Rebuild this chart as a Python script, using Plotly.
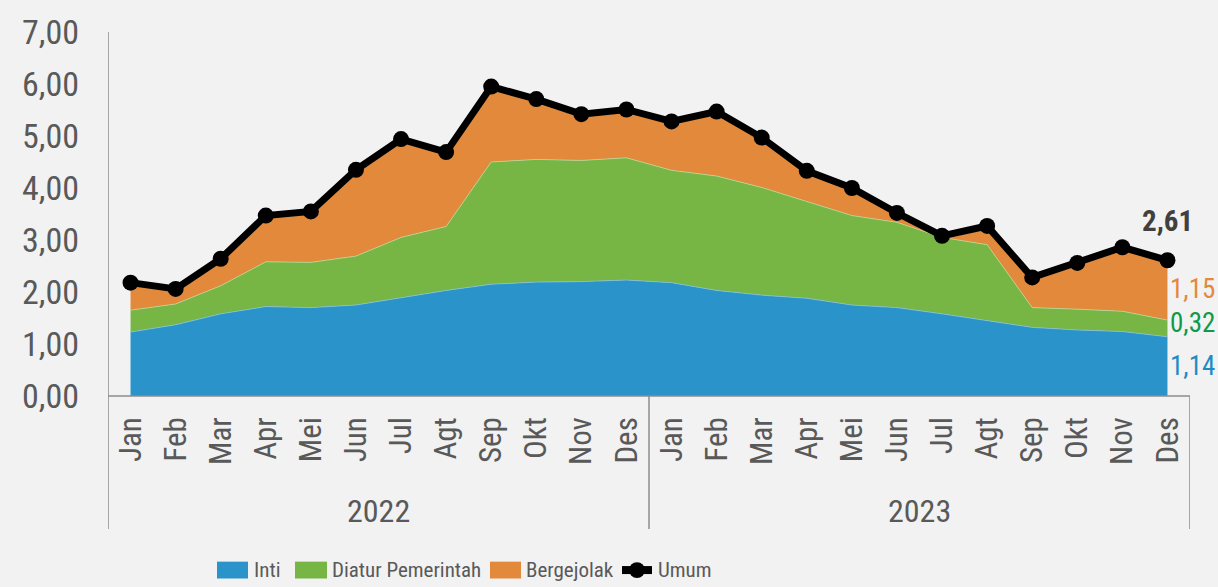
import plotly.graph_objects as go

months = ["Jan", "Feb", "Mar", "Apr", "Mei", "Jun", "Jul", "Agt", "Sep", "Okt", "Nov", "Des"]
years = ["2022", "2023"]
month_labels = months + months

inti = [1.23, 1.37, 1.58, 1.72, 1.70, 1.75, 1.89, 2.03, 2.15, 2.19, 2.20, 2.23,
        2.18, 2.03, 1.94, 1.88, 1.75, 1.70, 1.58, 1.45, 1.32, 1.27, 1.24, 1.14]
diatur = [0.42, 0.40, 0.54, 0.86, 0.87, 0.94, 1.16, 1.23, 2.35, 2.36, 2.33, 2.35,
          2.16, 2.20, 2.07, 1.86, 1.72, 1.64, 1.47, 1.46, 0.38, 0.40, 0.39, 0.32]
bergejolak = [0.53, 0.29, 0.52, 0.89, 0.98, 1.66, 1.89, 1.43, 1.45, 1.16, 0.89, 0.93,
              0.94, 1.24, 0.96, 0.59, 0.53, 0.18, 0.03, 0.36, 0.58, 0.89, 1.23, 1.15]
umum = [2.18, 2.06, 2.64, 3.47, 3.55, 4.35, 4.94, 4.69, 5.95, 5.71, 5.42, 5.51,
        5.28, 5.47, 4.97, 4.33, 4.00, 3.52, 3.08, 3.27, 2.28, 2.56, 2.86, 2.61]
y_ticks = [0, 1, 2, 3, 4, 5, 6, 7]
y_tick_text = ["0,00", "1,00", "2,00", "3,00", "4,00", "5,00", "6,00", "7,00"]
series_names = ["Inti", "Diatur Pemerintah", "Bergejolak", "Umum"]

x = list(range(len(month_labels)))

FONT = "Liberation Sans Narrow, Arial Narrow, Roboto Condensed, Liberation Sans, sans-serif"
TXT = "#595959"
BLUE = "#2A94CA"
GREEN = "#77B545"
ORANGE = "#E3893B"
AXC = "#8C8C8C"

W, H = 1218, 587
L, R, T, B = 108, 28, 29, 191
PW, PH = W - L - R, H - T - B


def px_x(p):
    return (p - L) / PW


def px_y(p):
    return (H - B - p) / PH


fig = go.Figure()
fig.add_trace(go.Scatter(x=x, y=inti, name=series_names[0], stackgroup="s", mode="lines",
                         line=dict(color="#7FC0E4", width=0.8), fillcolor=BLUE, showlegend=False))
fig.add_trace(go.Scatter(x=x, y=diatur, name=series_names[1], stackgroup="s", mode="lines",
                         line=dict(color="#B5DB95", width=0.8), fillcolor=GREEN, showlegend=False))
fig.add_trace(go.Scatter(x=x, y=bergejolak, name=series_names[2], stackgroup="s", mode="lines",
                         line=dict(color="#F1BE8E", width=0.8), fillcolor=ORANGE, showlegend=False))
fig.add_trace(go.Scatter(x=x, y=umum, name=series_names[3], mode="lines+markers",
                         line=dict(color="black", width=7),
                         marker=dict(color="black", size=16), showlegend=False))

shapes = []
shapes.append(dict(type="line", xref="x", yref="paper", x0=-0.5, x1=-0.5, y0=1.0, y1=px_y(530),
                   line=dict(color=AXC, width=1.5)))
for xv in [11.5, 23.5]:
    shapes.append(dict(type="line", xref="x", yref="paper", x0=xv, x1=xv, y0=0, y1=px_y(530),
                       line=dict(color=AXC, width=1.5)))
shapes.append(dict(type="line", xref="x", yref="paper", x0=-0.5, x1=23.5, y0=0, y1=0,
                   line=dict(color=AXC, width=1.5)))

annotations = []
for i, yr in enumerate(years):
    annotations.append(dict(x=5.5 + 12 * i, y=px_y(512), xref="x", yref="paper", text=yr,
                            showarrow=False, font=dict(family=FONT, size=32, color=TXT),
                            xanchor="center", yanchor="middle"))
last = len(x) - 1
annotations.append(dict(x=last, y=3.36, xref="x", yref="y", text="<b>2,61</b>", showarrow=False,
                        font=dict(family=FONT, size=29, color="#404040"), xanchor="center", yanchor="middle"))
annotations.append(dict(x=last, y=2.06, xref="x", yref="y", text="1,15", showarrow=False, xshift=1,
                        font=dict(family=FONT, size=27, color=ORANGE), xanchor="left", yanchor="middle"))
annotations.append(dict(x=last, y=1.41, xref="x", yref="y", text="0,32", showarrow=False, xshift=1,
                        font=dict(family=FONT, size=27, color="#0E9A48"), xanchor="left", yanchor="middle"))
annotations.append(dict(x=last, y=0.57, xref="x", yref="y", text="1,14", showarrow=False, xshift=1,
                        font=dict(family=FONT, size=27, color="#1E8BC3"), xanchor="left", yanchor="middle"))

# manual legend
leg_y0, leg_y1 = 563, 580
leg_c = (leg_y0 + leg_y1) / 2
LEG_FS = 21
swatches = [(217, 248, BLUE, 252), (295, 327, GREEN, 330), (490, 521, ORANGE, 524)]
for (a, b, col, tx), name in zip(swatches, series_names[:3]):
    shapes.append(dict(type="rect", xref="paper", yref="paper", x0=px_x(a), x1=px_x(b),
                       y0=px_y(leg_y1), y1=px_y(leg_y0), fillcolor=col, line=dict(width=0)))
    annotations.append(dict(x=px_x(tx), y=px_y(leg_c), xref="paper", yref="paper", text=name,
                            showarrow=False, xanchor="left", yanchor="middle",
                            font=dict(family=FONT, size=LEG_FS, color=TXT)))
shapes.append(dict(type="line", xref="paper", yref="paper", x0=px_x(622), x1=px_x(652),
                   y0=px_y(leg_c), y1=px_y(leg_c), line=dict(color="black", width=8)))
shapes.append(dict(type="circle", xref="paper", yref="paper", x0=px_x(629), x1=px_x(645),
                   y0=px_y(leg_c + 8), y1=px_y(leg_c - 8), fillcolor="black", line=dict(width=0)))
annotations.append(dict(x=px_x(656), y=px_y(leg_c), xref="paper", yref="paper", text=series_names[3],
                        showarrow=False, xanchor="left", yanchor="middle",
                        font=dict(family=FONT, size=LEG_FS, color=TXT)))

fig.update_layout(
    width=W, height=H,
    margin=dict(l=L, r=R, t=T, b=B),
    paper_bgcolor="#F2F2F2", plot_bgcolor="#F2F2F2",
    font=dict(family=FONT, color=TXT),
    showlegend=False,
    xaxis=dict(range=[-0.5, 23.5], tickmode="array", tickvals=x, ticktext=month_labels,
               tickangle=-90, showgrid=False, zeroline=False, showline=False, ticks="",
               tickfont=dict(family=FONT, size=31, color=TXT), ticklabelstandoff=14,
               fixedrange=True),
    yaxis=dict(range=[0, 7], tickmode="array", tickvals=y_ticks, ticktext=y_tick_text,
               showgrid=False, zeroline=False, showline=False, ticks="",
               tickfont=dict(family=FONT, size=34, color=TXT), ticklabelstandoff=28,
               fixedrange=True),
    shapes=shapes,
    annotations=annotations,
)

fig.write_html("out.html", config={"displayModeBar": False},
               post_script="document.body.style.margin='0px';document.body.style.background='#F2F2F2';")
